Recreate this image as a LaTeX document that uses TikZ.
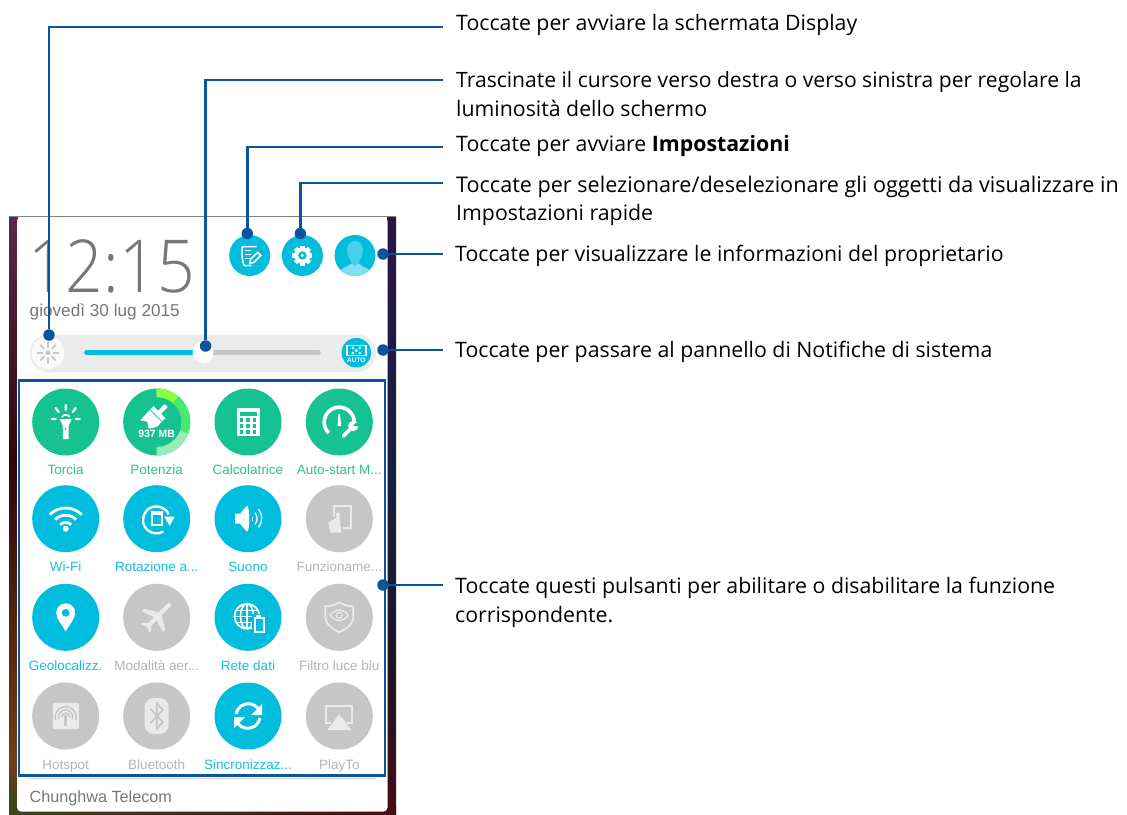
\documentclass[tikz,border=0pt]{standalone}
\usepackage{fontspec}
\setmainfont{Open Sans}
\newfontfamily\uifont{Liberation Sans}
\newfontfamily\clockfont{Open Sans Light}
\definecolor{callout}{HTML}{0B559F}
\definecolor{teal}{HTML}{17C291}
\definecolor{sky}{HTML}{00BDDD}
\definecolor{off}{HTML}{C6C6C6}
\definecolor{offtx}{HTML}{B4B4B4}
\definecolor{offic}{HTML}{EAEAEA}
\definecolor{tealtx}{HTML}{2FBE96}
\definecolor{skytx}{HTML}{14BEDF}
\definecolor{mut}{HTML}{777777}
\definecolor{pill}{HTML}{EBEBEB}
\begin{document}
\begin{tikzpicture}[x=1pt,y=-1pt,
  lead/.style={draw=callout,line width=2.9pt},
  dot/.style={circle,fill=callout,minimum size=11.5pt,inner sep=0pt},
  note/.style={anchor=base west,inner sep=0pt,font=\fontsize{21.3}{29}\selectfont,text=black,align=left},
  btn/.style={circle,minimum size=67pt,inner sep=0pt},
  tbtn/.style={btn,fill=teal},
  sbtn/.style={btn,fill=sky},
  obtn/.style={btn,fill=off},
  btnlabel/.style={font=\uifont\fontsize{13.5}{15}\selectfont,inner sep=0pt,anchor=base},
  topbtn/.style={circle,fill=sky,minimum size=41pt,inner sep=0pt}]
\useasboundingbox (0,0) rectangle (1127,814);
\fill[white] (0,0) rectangle (1127,814);
% wallpaper strips
\path[top color={rgb,255:red,92;green,40;blue,72},bottom color={rgb,255:red,48;green,8;blue,12}] (9,216) rectangle (17.5,460);
\path[top color={rgb,255:red,48;green,8;blue,12},bottom color={rgb,255:red,115;green,60;blue,20}] (9,460) rectangle (17.5,760);
\path[top color={rgb,255:red,115;green,60;blue,20},bottom color={rgb,255:red,50;green,70;blue,30}] (9,760) rectangle (17.5,814);
\path[top color={rgb,255:red,42;green,22;blue,70},bottom color={rgb,255:red,22;green,32;blue,62}] (387,216) rectangle (396,480);
\path[top color={rgb,255:red,22;green,32;blue,62},bottom color={rgb,255:red,30;green,20;blue,38}] (387,480) rectangle (396,660);
\path[top color={rgb,255:red,30;green,20;blue,38},bottom color={rgb,255:red,70;green,12;blue,22}] (387,660) rectangle (396,814);
\path[left color={rgb,255:red,60;green,70;blue,30},right color={rgb,255:red,70;green,12;blue,22}] (9,806) rectangle (396,814);
\fill[gray!60!black!70] (9,215.5) rectangle (396,217);
% panel
\fill[white,rounded corners=4pt] (17,217) -- (387.5,217) -- (387.5,811.5) -- (17,811.5) -- cycle;
% clock
\node[font=\clockfont\fontsize{73}{73}\selectfont,text=mut,inner sep=0pt,anchor=base west,xscale=.905,transform shape,text depth=0pt] (clock) at (28,292) {12:15};
\node[font=\uifont\fontsize{17.2}{18}\selectfont,text=mut,inner sep=0pt,anchor=base west] (date) at (29.5,316) {giovedì 30 lug 2015};
% top buttons
\node[topbtn] (bnote) at (249.7,255.5) {};
\node[topbtn] (bgear) at (302.4,255.5) {};
\node[topbtn] (buser) at (355,255.5) {};
\begin{scope}[shift={(249.7,255.5)}]
 \draw[white,line width=1.5pt,rounded corners=1pt] (7,-9) -- (-7.5,-9) -- (-7.5,2) -- (-6,10) -- (2,10);
 \foreach \y in {-5,-1,3} \draw[white,line width=1.5pt] (-4.5,\y) -- (1.5,\y);
 \draw[white,line width=1.5pt] (0,8) -- (1,3.5) -- (8,-3) -- (11,0) -- (4,7) -- cycle;
\end{scope}
\begin{scope}[shift={(302.4,255.5)}]
 \foreach \a in {0,45,...,315} \fill[white,rotate=\a] (-2.2,-10) rectangle (2.2,-5);
 \fill[white,even odd rule] (0,0) circle (8.2) (0,0) circle (4.4);
 \fill[white] (0,0) circle (1.8);
\end{scope}
\begin{scope}[shift={(355,255.5)}]
 \clip (0,0) circle (20.5);
 \fill[sky!50!white] (-18,22) .. controls (-18,12) and (-8,13) .. (-4,8) -- (4,8) .. controls (8,13) and (18,12) .. (18,22) -- cycle;
 \fill[sky!72!white] (0,-14.5) .. controls (-9,-14.5) and (-9,-3) .. (-6,2) .. controls (-4,6) and (-2,10) .. (0,10) .. controls (2,10) and (4,6) .. (6,2) .. controls (9,-3) and (9,-14.5) .. (0,-14.5) -- cycle;
\end{scope}
% brightness bar
\fill[pill,rounded corners=18.9pt] (29.5,334.5) rectangle (376,372);
\node[circle,fill=white!75!pill,minimum size=33pt,inner sep=0pt] (bright) at (48,352.7) {};
\begin{scope}[shift={(48,352.7)}]
 \foreach \a in {0,45,...,315} \draw[off,line width=1.8pt,rotate=\a,line cap=round] (0,-5.5) -- (0,-10.5);
 \fill[off] (0,0) circle (2.4);
\end{scope}
\draw[off,line width=5.5pt,line cap=round] (87,352.7) -- (318,352.7);
\draw[sky,line width=5.5pt,line cap=round] (87,352.7) -- (195,352.7);
\node[circle,fill=white,minimum size=21pt,inner sep=0pt] (knob) at (203,352.5) {};
\node[circle,fill=sky,minimum size=29.5pt,inner sep=0pt] (bauto) at (356.3,352.7) {};
\begin{scope}[shift={(356.3,352.7)}]
 \draw[white,line width=1.4pt] (-9.5,-7.5) rectangle (9.5,3);
 \foreach \x in {-3.5,3.5} \fill[white] (\x,-4.8) circle (1.4) (\x,.3) circle (1.4);
 \fill[white] (0,-2.2) circle (1.7);
 \node[font=\uifont\bfseries\fontsize{6.5}{6.5}\selectfont,text=white,inner sep=0pt] (lauto) at (0,7.8) {AUTO};
\end{scope}
% quick-settings buttons
\node[tbtn] (q11) at (65.7,422) {};
\node[tbtn] (q12) at (156.7,422) {};
\node[tbtn] (q13) at (248,422) {};
\node[tbtn] (q14) at (339.3,422) {};
\node[sbtn] (q21) at (65.7,518.7) {};
\node[sbtn] (q22) at (156.7,518.7) {};
\node[sbtn] (q23) at (248,518.7) {};
\node[obtn] (q24) at (339.3,518.7) {};
\node[sbtn] (q31) at (65.7,617.3) {};
\node[obtn] (q32) at (156.7,617.3) {};
\node[sbtn] (q33) at (248,617.3) {};
\node[obtn] (q34) at (339.3,617.3) {};
\node[obtn] (q41) at (65.7,716) {};
\node[obtn] (q42) at (156.7,716) {};
\node[sbtn] (q43) at (248,716) {};
\node[obtn] (q44) at (339.3,716) {};
% captions
\node[btnlabel,text=tealtx] (c11) at (65.7,474) {Torcia};
\node[btnlabel,text=tealtx] (c12) at (156.7,474) {Potenzia};
\node[btnlabel,text=tealtx] (c13) at (248,474) {Calcolatrice};
\node[btnlabel,text=tealtx] (c14) at (339.3,474) {Auto-start M...};
\node[btnlabel,text=skytx] (c21) at (65.7,571) {Wi-Fi};
\node[btnlabel,text=skytx] (c22) at (156.7,571) {Rotazione a...};
\node[btnlabel,text=skytx] (c23) at (248,571) {Suono};
\node[btnlabel,text=offtx] (c24) at (339.3,571) {Funzioname...};
\node[btnlabel,text=skytx] (c31) at (65.7,670) {Geolocalizz.};
\node[btnlabel,text=offtx] (c32) at (156.7,670) {Modalità aer...};
\node[btnlabel,text=skytx] (c33) at (248,670) {Rete dati};
\node[btnlabel,text=offtx] (c34) at (339.3,670) {Filtro luce blu};
\node[btnlabel,text=offtx] (c41) at (65.7,769) {Hotspot};
\node[btnlabel,text=offtx] (c42) at (156.7,769) {Bluetooth};
\node[btnlabel,text=skytx] (c43) at (248,769) {Sincronizzaz...};
\node[btnlabel,text=offtx] (c44) at (339.3,769) {PlayTo};
% torch
\begin{scope}[shift={(65.7,422)}]
 \fill[white] (-6,-3) -- (6,-3) -- (2.8,4) -- (2.8,17) -- (-2.8,17) -- (-2.8,4) -- cycle;
 \fill[teal] (0,7) circle (1);
 \draw[white,line width=1.6pt] (-4,-5) arc[start angle=-150,end angle=-30,radius=4.6];
 \draw[white,line width=2.2pt,line cap=round] (0,-17) -- (0,-12) (-10,-14) -- (-7,-10) (10,-14) -- (7,-10) (-14,-3) -- (-10,-3) (14,-3) -- (10,-3);
\end{scope}
% booster
\begin{scope}[shift={(156.7,422)}]
 \fill[teal!35!white!85!green] (0,-33.5) arc[start angle=-90,end angle=90,radius=33.5] -- (0,25) arc[start angle=90,end angle=-90,radius=25] -- cycle;
 \fill[green!55!teal!75!white] (0,-33.5) arc[start angle=-90,end angle=20,radius=33.5] -- (23.5,8.6) arc[start angle=20,end angle=-90,radius=25] -- cycle;
 \fill[green!60!yellow!75!white] (0,-33.5) arc[start angle=-90,end angle=-50,radius=33.5] -- (16.1,-19.2) arc[start angle=-50,end angle=-90,radius=25] -- cycle;
 \begin{scope}[shift={(-1,-6)},rotate=-45]
  \fill[white,rounded corners=1pt] (-2.2,-15) rectangle (2.2,-4);
  \fill[white] (-8.5,-5.5) rectangle (8.5,-1);
  \fill[white] (-8.5,0) -- (8.5,0) -- (8.5,7) -- (4,14) -- (-2,10) -- (-8,14) -- cycle;
 \end{scope}
 \node[font=\uifont\bfseries\fontsize{10.5}{11}\selectfont,text=white,inner sep=0pt] (mb) at (0,11.5) {937 MB};
\end{scope}
% calculator
\begin{scope}[shift={(248,422)}]
 \fill[white] (-11.5,-14) rectangle (11.5,14);
 \fill[teal] (-8.5,-10.5) rectangle (8.5,-6.5);
 \foreach \x in {-6.5,0,6.5} \foreach \y in {-2,4,10} \fill[teal] (\x-1.6,\y-1.6) rectangle (\x+1.6,\y+1.6);
\end{scope}
% auto-start
\begin{scope}[shift={(339.3,422)}]
 \draw[white,line width=3.6pt] (-10.5,11) arc[start angle=134,end angle=360,radius=15];
 \fill[teal] (10,9) circle (9);
 \fill[white] (-1.8,4) -- (-0.8,-8) -- (0.8,-8) -- (1.8,4) -- cycle;
 \draw[white,line width=3.6pt,line cap=round] (4,14) -- (12,6);
 \fill[white] (14,4) circle (5.2);
 \fill[teal] (13.5,3.5) -- (21,-2) -- (21,5) -- cycle;
\end{scope}
% wifi
\begin{scope}[shift={(65.7,518.7)}]
 \draw[white,line width=2.8pt] (-16,-4) .. controls (-7,-13) and (7,-13) .. (16,-4);
 \draw[white,line width=2.8pt] (-10.5,1) .. controls (-5,-5) and (5,-5) .. (10.5,1);
 \draw[white,line width=2.8pt] (-5.5,6) .. controls (-2.5,3) and (2.5,3) .. (5.5,6);
 \fill[white] (0,10) circle (3);
\end{scope}
% rotation
\begin{scope}[shift={(156.7,518.7)}]
 \draw[white,line width=2.4pt] (12,-4.5) arc[start angle=-25,end angle=-300,radius=13.5];
 \draw[white,line width=1.6pt] (-5,-6.5) rectangle (5,6);
 \fill[white] (-5,-6.5) rectangle (5,-3.5);
 \fill[white] (7.5,-2) -- (18,-2) -- (13,7) -- cycle;
\end{scope}
% sound
\begin{scope}[shift={(248,518.7)}]
 \fill[white] (-13,-5) -- (-8,-5) -- (-1,-13) .. controls (2,-13) and (2,13) .. (-1,13) -- (-8,5) -- (-13,5) -- cycle;
 \fill[white] (3.5,-2) rectangle (5,2);
 \draw[white,line width=1.3pt] (7,-6) arc[start angle=-40,end angle=40,radius=9];
 \draw[white,line width=1.3pt] (10.5,-9.5) arc[start angle=-40,end angle=40,radius=14];
\end{scope}
% hand
\begin{scope}[shift={(339.3,518.7)}]
 \draw[offic,line width=2pt] (-5,-2) -- (-5,-13) -- (12,-13) -- (12,9) -- (4,9);
 \fill[offic] (-3,-6) -- (0,-6) -- (1,4) -- (2,14) -- (-9,14) -- (-11,4) -- (-3,-1) -- cycle;
\end{scope}
% pin
\begin{scope}[shift={(65.7,617.3)}]
 \fill[white,even odd rule] (0,14) .. controls (-3,8) and (-9.5,2) .. (-9.5,-4.5) arc[start angle=180,end angle=360,radius=9.5] .. controls (9.5,2) and (3,8) .. (0,14) -- cycle (0,-4.5) circle (4);
\end{scope}
% plane
\begin{scope}[shift={(156.7,617.3)},rotate=-45]
 \fill[offic] (-2,-18) .. controls (-2,-20) and (2,-20) .. (2,-18) -- (2,-5) -- (15,3) -- (15,6) -- (2,2) -- (2,10) -- (6,14) -- (6,16) -- (0,14) -- (-6,16) -- (-6,14) -- (-2,10) -- (-2,2) -- (-15,6) -- (-15,3) -- (-2,-5) -- cycle;
\end{scope}
% globe
\begin{scope}[shift={(248,617.3)}]
 \draw[white,line width=1.8pt] (-1,-1) circle (12.5);
 \draw[white,line width=1.6pt] (-1,-13) -- (-1,11) (-13.5,-1) -- (11,-1) (-12,-7) -- (10,-7) (-12,5) -- (10,5);
 \draw[white,line width=1.6pt] (-1,-1) ellipse (6.5 and 12.5);
 \fill[sky] (4,-3) rectangle (18,16);
 \draw[white,line width=2pt] (6.5,1) rectangle (15.5,14.5);
 \fill[white] (8,-2) rectangle (13,1);
\end{scope}
% shield
\begin{scope}[shift={(339.3,617.3)}]
 \draw[offic,line width=1.8pt] (0,-15) .. controls (-5,-12) and (-9,-11) .. (-14,-11) -- (-14,0) .. controls (-14,7) and (-6,12) .. (0,15) .. controls (6,12) and (14,7) .. (14,0) -- (14,-11) .. controls (9,-11) and (5,-12) .. (0,-15) -- cycle;
 \draw[offic,line width=1.4pt] (-9,-2) .. controls (-4,-9) and (4,-9) .. (9,-2) .. controls (4,5) and (-4,5) .. (-9,-2) -- cycle;
 \draw[offic,line width=1.2pt] (0,-2) circle (3);
\end{scope}
% hotspot
\begin{scope}[shift={(65.7,716)}]
 \fill[offic] (-13,-13) rectangle (13,13);
 \draw[off,line width=1.4pt] (-4,1) arc[start angle=180,end angle=360,radius=4];
 \draw[off,line width=1.4pt] (-7,3) arc[start angle=165,end angle=375,radius=7.2];
 \draw[off,line width=1.4pt] (-10.3,4) arc[start angle=165,end angle=375,radius=10.6];
 \fill[off] (-1.5,-1) rectangle (1.5,10);
\end{scope}
% bluetooth
\begin{scope}[shift={(156.7,716)}]
 \fill[offic,rounded corners=9pt] (-12,-18) rectangle (12,18);
 \draw[off,line width=1.8pt] (-6,-7) -- (6,6) -- (0,13) -- (0,-13) -- (6,-6) -- (-6,7);
\end{scope}
% sync
\begin{scope}[shift={(248,716)}]
 \draw[white,line width=3pt] (-12,-2) arc[start angle=190,end angle=320,radius=12.5];
 \draw[white,line width=3pt] (12,2) arc[start angle=10,end angle=140,radius=12.5];
 \fill[white] (14,-12) -- (14,-1) -- (3,-1) -- cycle;
 \fill[white] (-14,12) -- (-14,1) -- (-3,1) -- cycle;
\end{scope}
% playto
\begin{scope}[shift={(339.3,716)}]
 \draw[offic,line width=2.2pt] (-8,7) -- (-13,7) -- (-13,-10) -- (13,-10) -- (13,7) -- (8,7);
 \fill[offic] (0,-2) -- (12,14) -- (-12,14) -- cycle;
\end{scope}
% frame and bottom of the panel
\node[draw=callout,line width=2.6pt,inner sep=0pt,minimum width=366pt,minimum height=395pt,anchor=north west] (frame) at (17.5,379) {};
\draw[black!18,line width=1pt] (29.5,778.5) -- (375.5,778.5);
\node[font=\uifont\fontsize{16.2}{18}\selectfont,text=mut,inner sep=0pt,anchor=base west] (carrier) at (29.5,802) {Chunghwa Telecom};
% notes
\node[note] (t1) at (456,30) {Toccate per avviare la schermata Display};
\node[note,font=\fontsize{21.1}{29}\selectfont] (t2) at (456,87) {Trascinate il cursore verso destra o verso sinistra per regolare la};
\node[note] (t2b) at (456,116) {luminosità dello schermo};
\node[note] (t3) at (456,151) {Toccate per avviare \textbf{Impostazioni}};
\node[note,font=\fontsize{21.6}{29}\selectfont] (t4) at (456,192) {Toccate per selezionare/deselezionare gli oggetti da visualizzare in};
\node[note] (t4b) at (456,220) {Impostazioni rapide};
\node[note] (t5) at (455,261) {Toccate per visualizzare le informazioni del proprietario};
\node[note] (t6) at (455,357) {Toccate per passare al pannello di Notifiche di sistema};
\node[note] (t7) at (455,593) {Toccate questi pulsanti per abilitare o disabilitare la funzione};
\node[note] (t7b) at (455,622) {corrispondente.};
% connector dots and ends
\node[dot] (d1) at (49,335) {};
\node[dot] (d2) at (205.6,346) {};
\node[dot] (d3) at (247.3,233.5) {};
\node[dot] (d4) at (300.3,233.5) {};
\node[dot] (d5) at (383,254) {};
\node[dot] (d6) at (383,350) {};
\node[dot] (d7) at (383,585) {};
\coordinate (e1) at (443,27);
\coordinate (e2) at (443,80);
\coordinate (e3) at (443,147);
\coordinate (e4) at (443,183);
\coordinate (e5) at (443,254);
\coordinate (e6) at (443,350);
\coordinate (e7) at (443,585);
\draw[lead] (d1) |- (e1);
\draw[lead] (d2) |- (e2);
\draw[lead] (d3) |- (e3);
\draw[lead] (d4) |- (e4);
\draw[lead] (d5) -- (e5);
\draw[lead] (d6) -- (e6);
\draw[lead] (d7) -- (e7);
\end{tikzpicture}
\end{document}
